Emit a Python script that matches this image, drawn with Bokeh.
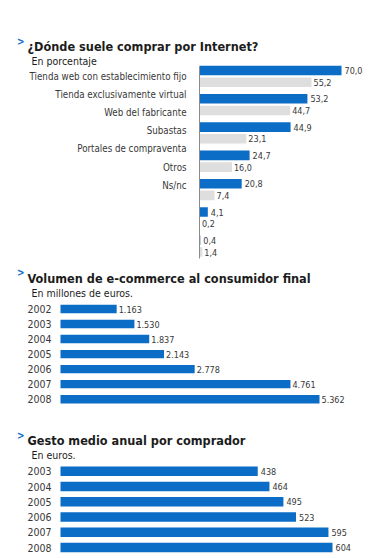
from bokeh.plotting import figure
from bokeh.models import Range1d, FixedTicker, LinearAxis, ColumnDataSource
from bokeh.layouts import column
from bokeh.embed import file_html
from bokeh.resources import INLINE
from bokeh.core.properties import value

# ---------------- data ----------------
channels = ["Tienda web con establecimiento fijo", "Tienda exclusivamente virtual",
            "Web del fabricante", "Subastas", "Portales de compraventa", "Otros", "Ns/nc"]
blue_vals = [70.0, 53.2, 44.9, 24.7, 20.8, 4.1, 0.4]
gray_vals = [55.2, 44.7, 23.1, 16.0, 7.4, 0.2, 1.4]

vol_years = ["2002", "2003", "2004", "2005", "2006", "2007", "2008"]
vol_vals = [1163, 1530, 1837, 2143, 2778, 4761, 5362]

gasto_years = ["2003", "2004", "2005", "2006", "2007", "2008"]
gasto_vals = [438, 464, 495, 523, 595, 604]

title1 = "¿Dónde suele comprar por Internet?"
sub1 = "En porcentaje"
title2 = "Volumen de e-commerce al consumidor final"
sub2 = "En millones de euros."
title3 = "Gesto medio anual por comprador"
sub3 = "En euros."

# ---------------- style ----------------
FONT = "'DejaVu Sans Condensed', Roboto, sans-serif"
BLUE = "#0b6dc6"
GRAY = "#dedede"
TXT = "#1c1c1c"
LBL = "#383838"
W = 368


def pct(v):
    return f"{v:.1f}".replace(".", ",")


def miles(v):
    return f"{v:,}".replace(",", ".")


class Frame:
    """Maps canvas pixels to data units for a figure whose frame fills the canvas."""

    def __init__(self, height, x0, sx, y0, sy):
        self.h, self.x0, self.sx, self.y0, self.sy = height, x0, sx, y0, sy

    def cx(self, px):
        return (px - self.x0) / self.sx

    def cy(self, py):
        return (py - self.y0) / self.sy

    def fig(self):
        p = figure(width=W, height=self.h, output_backend="svg", toolbar_location=None,
                   x_range=Range1d(self.cx(0), self.cx(W)),
                   y_range=Range1d(start=self.cy(self.h), end=self.cy(0)),
                   x_axis_type=None, y_axis_type=None,
                   min_border_left=0, min_border_right=0, min_border_top=0,
                   min_border_bottom=0)
        p.outline_line_color = None
        p.background_fill_color = "white"
        p.border_fill_color = "white"
        p.xgrid.visible = False
        p.ygrid.visible = False
        return p


def add_titles(p, fr, title, sub, mark_mid, title_base, sub_base):
    p.text(x=[fr.cx(16.5)], y=[fr.cy(mark_mid)], text=[">"], text_font=value(FONT),
           text_font_style="bold", text_font_size="10px", text_color=BLUE,
           text_baseline="middle")
    p.text(x=[fr.cx(27)], y=[fr.cy(title_base)], text=[title], text_font=value(FONT),
           text_font_style="bold", text_font_size="12.6px", text_color=TXT,
           text_baseline="alphabetic")
    p.text(x=[fr.cx(31)], y=[fr.cy(sub_base)], text=[sub], text_font=value(FONT),
           text_font_size="10.5px", text_color=TXT, text_baseline="alphabetic")


def add_axis(p, ticks, labels, standoff, size, line_color, bounds="auto"):
    ax = LinearAxis(ticker=FixedTicker(ticks=ticks), fixed_location=0, bounds=bounds,
                    major_label_overrides={t: l for t, l in zip(ticks, labels)})
    ax.major_tick_line_color = None
    ax.minor_tick_line_color = None
    ax.axis_line_color = line_color
    ax.major_label_standoff = standoff
    ax.major_label_text_font = FONT
    ax.major_label_text_font_size = size
    ax.major_label_text_color = LBL
    p.add_layout(ax, "left")


# ---------------- chart 1 (page y 0..262) ----------------
lab_step = 18.1             # px between category labels (1 y unit)
grp_step = 28.3             # px between bar groups
f1 = Frame(262, 199, 142 / 70.0, 76, lab_step)
p1 = f1.fig()
n1 = len(channels)
g_pos = [k * grp_step / lab_step for k in range(n1)]
src1 = ColumnDataSource(dict(
    yb=[g - 6.0 / lab_step for g in g_pos],
    yg=[g + 5.7 / lab_step for g in g_pos],
    blue=blue_vals, gray=gray_vals,
    tb=[pct(v) for v in blue_vals], tg=[pct(v) for v in gray_vals]))
bh = 9.6 / lab_step
p1.hbar(y="yb", right="blue", left=0, height=bh, source=src1, color=BLUE, line_color=None)
p1.hbar(y="yg", right="gray", left=0, height=bh, source=src1, color=GRAY, line_color=None)
p1.text(x="blue", y="yb", text="tb", source=src1, x_offset=3, text_baseline="middle",
        text_font=value(FONT), text_font_size="9px", text_color=LBL)
p1.text(x="gray", y="yg", text="tg", source=src1, x_offset=2, text_baseline="middle",
        text_font=value(FONT), text_font_size="9px", text_color=LBL)
add_axis(p1, list(range(n1)), channels, 7, "9.7px", "#8c8c8c",
         bounds=(f1.cy(66), f1.cy(258)))
add_titles(p1, f1, title1, sub1, 41, 45.7, 60.7)

# ---------------- chart 2 (page y 262..408) ----------------
step2 = 15.03
f2 = Frame(146, 60, 259 / 5362.0, 308.5 - 262, step2)
p2 = f2.fig()
src2 = ColumnDataSource(dict(y=list(range(len(vol_years))), v=vol_vals,
                             t=[miles(v) for v in vol_vals]))
p2.hbar(y="y", right="v", left=0, height=8.4 / step2, source=src2, color=BLUE, line_color=None)
p2.text(x="v", y="y", text="t", source=src2, x_offset=2, text_baseline="middle",
        text_font=value(FONT), text_font_size="9px", text_color=LBL)
add_axis(p2, list(range(len(vol_years))), vol_years, 3, "10.5px", None)
add_titles(p2, f2, title2, sub2, 10, 16.3, 30.7)

# ---------------- chart 3 (page y 408..554) ----------------
step3 = 15.24
f3 = Frame(146, 60, 272 / 604.0, 470.8 - 408, step3)
p3 = f3.fig()
src3 = ColumnDataSource(dict(y=list(range(len(gasto_years))), v=gasto_vals,
                             t=[str(v) for v in gasto_vals]))
p3.hbar(y="y", right="v", left=0, height=9.4 / step3, source=src3, color=BLUE, line_color=None)
p3.text(x="v", y="y", text="t", source=src3, x_offset=3, text_baseline="middle",
        text_font=value(FONT), text_font_size="9px", text_color=LBL)
add_axis(p3, list(range(len(gasto_years))), gasto_years, 3, "10.5px", None)
add_titles(p3, f3, title3, sub3, 26.5, 32.0, 46.0)

layout = column(p1, p2, p3, spacing=0)
open("out.html", "w").write(file_html(layout, INLINE))
